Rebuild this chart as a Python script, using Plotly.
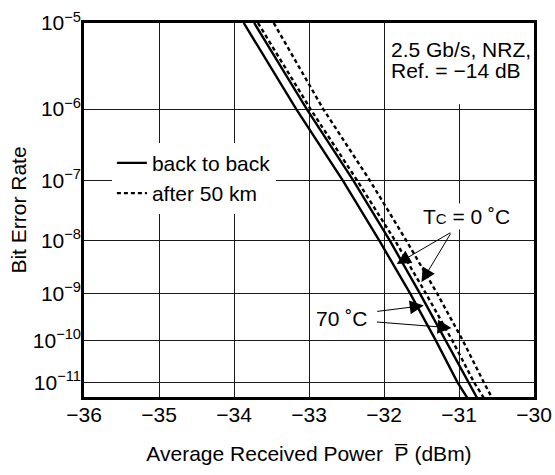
import math
import plotly.graph_objects as go

# ---------------- data ----------------
ber = [1e-5, 1e-6, 1e-7, 1e-8, 1e-9, 1e-10, 1e-11, 4e-12]
p_b2b_0C = [-33.87, -33.17, -32.55, -32.06, -31.65, -31.31, -31.02, -30.89]
p_b2b_70C = [-33.73, -33.03, -32.41, -31.92, -31.52, -31.18, -30.88, -30.76]
p_50km_0C = [-33.68, -32.98, -32.36, -31.85, -31.44, -31.09, -30.80, -30.67]
p_50km_70C = [-33.47, -32.81, -32.19, -31.70, -31.29, -30.95, -30.67, -30.56]

x_ticks = [-36, -35, -34, -33, -32, -31, -30]
x_tick_labels = ["\u221236", "\u221235", "\u221234", "\u221233", "\u221232", "\u221231", "\u221230"]
y_tick_ber = [1e-5, 1e-6, 1e-7, 1e-8, 1e-9, 1e-10, 1e-11]
y_tick_labels = ["10<sup>\u22125</sup>", "10<sup>\u22126</sup>", "10<sup>\u22127</sup>",
                 "10<sup>\u22128</sup>", "10<sup>\u22129</sup>", "10<sup>\u221210</sup>",
                 "10<sup>\u221211</sup>"]


# BER axis drawn on a log(Q) scale (standard BER paper)
def q_of_ber(b):
    lo, hi = 0.0, 40.0
    for _ in range(200):
        mid = 0.5 * (lo + hi)
        if 0.5 * math.erfc(mid / math.sqrt(2.0)) > b:
            lo = mid
        else:
            hi = mid
    return 0.5 * (lo + hi)


def ty(b):
    return math.log10(q_of_ber(b))


y_vals = [ty(b) for b in ber]
FONT = "Liberation Sans, Arial, Helvetica, sans-serif"
FS = 21

fig = go.Figure()
fig.add_trace(go.Scatter(x=p_b2b_0C, y=y_vals, mode="lines", name="back to back",
                         line=dict(color="black", width=2.4), showlegend=True))
fig.add_trace(go.Scatter(x=p_50km_0C, y=y_vals, mode="lines", name="after 50 km",
                         line=dict(color="black", width=2.4, dash="4px,3px"), showlegend=True))
fig.add_trace(go.Scatter(x=p_b2b_70C, y=y_vals, mode="lines", name="back to back 70",
                         line=dict(color="black", width=2.4), showlegend=False))
fig.add_trace(go.Scatter(x=p_50km_70C, y=y_vals, mode="lines", name="after 50 km 70",
                         line=dict(color="black", width=2.4, dash="4px,3px"), showlegend=False))

axis_common = dict(showline=True, mirror=True, linecolor="black", linewidth=2.5,
                   showgrid=True, gridcolor="#1a1a1a", gridwidth=1, zeroline=False,
                   ticks="", automargin=False,
                   tickfont=dict(family=FONT, size=FS, color="black"))

fig.update_xaxes(range=[-36, -30], tickvals=x_ticks, ticktext=x_tick_labels,
                 ticklabelstandoff=-3,
                 title=dict(text="Average Received Power  P\u0305 (dBm)",
                            font=dict(family=FONT, size=FS, color="black"), standoff=22),
                 **axis_common)
fig.update_yaxes(range=[ty(4.2e-12), ty(1e-5)], tickvals=[ty(b) for b in y_tick_ber],
                 ticktext=y_tick_labels, ticklabelstandoff=-4,
                 title=dict(text="Bit Error Rate", font=dict(family=FONT, size=FS, color="black"),
                            standoff=1),
                 **axis_common)

# white patch hiding the grid behind the top-right note
fig.add_shape(type="rect", xref="x", yref="y", x0=-31.4, x1=-30.6,
              y0=ty(1.15e-6), y1=ty(1e-5), fillcolor="white", line=dict(width=0),
              layer="between")

ann_font = dict(family=FONT, size=FS, color="black")
fig.add_annotation(xref="paper", yref="paper", x=0.678, y=0.928, xanchor="left", yanchor="middle",
                   text="2.5 Gb/s, NRZ,", showarrow=False, font=ann_font)
fig.add_annotation(xref="paper", yref="paper", x=0.678, y=0.872, xanchor="left", yanchor="middle",
                   text="Ref. = \u221214 dB", showarrow=False, font=ann_font)
fig.add_annotation(xref="paper", yref="paper", x=0.851, y=0.483, xanchor="center", yanchor="middle",
                   text="T<span style='font-size:15px'>C</span> = 0 \u02daC", showarrow=False,
                   font=ann_font, bgcolor="white")
fig.add_annotation(xref="paper", yref="paper", x=0.573, y=0.210, xanchor="center", yanchor="middle",
                   text="70 \u02daC", showarrow=False, font=ann_font, bgcolor="white")

arrow_style = dict(text="", showarrow=True, arrowhead=2, arrowsize=2.8, arrowwidth=1,
                   arrowcolor="black", xref="x", yref="y", axref="pixel", ayref="pixel")
fig.add_annotation(x=-31.83, y=ty(3.8e-9), ax=55, ay=-32, **arrow_style)
fig.add_annotation(x=-31.50, y=ty(1.7e-9), ax=30, ay=-50, **arrow_style)
fig.add_annotation(x=-31.47, y=ty(5.7e-10), ax=-48, ay=6, **arrow_style)
fig.add_annotation(x=-31.10, y=ty(1.9e-10), ax=-76, ay=-6, **arrow_style)

fig.update_layout(
    width=555, height=475,
    margin=dict(l=84, r=21, t=23, b=78),
    paper_bgcolor="white", plot_bgcolor="white",
    font=dict(family=FONT, size=FS, color="black"),
    legend=dict(x=0.062, y=0.68, xanchor="left", yanchor="top", bgcolor="white",
                font=dict(family=FONT, size=FS, color="black"), borderwidth=0,
                tracegroupgap=0),
)

fig.write_html("out.html", config={"displayModeBar": False},
               post_script="document.body.style.margin='0';document.body.style.overflow='hidden';")
